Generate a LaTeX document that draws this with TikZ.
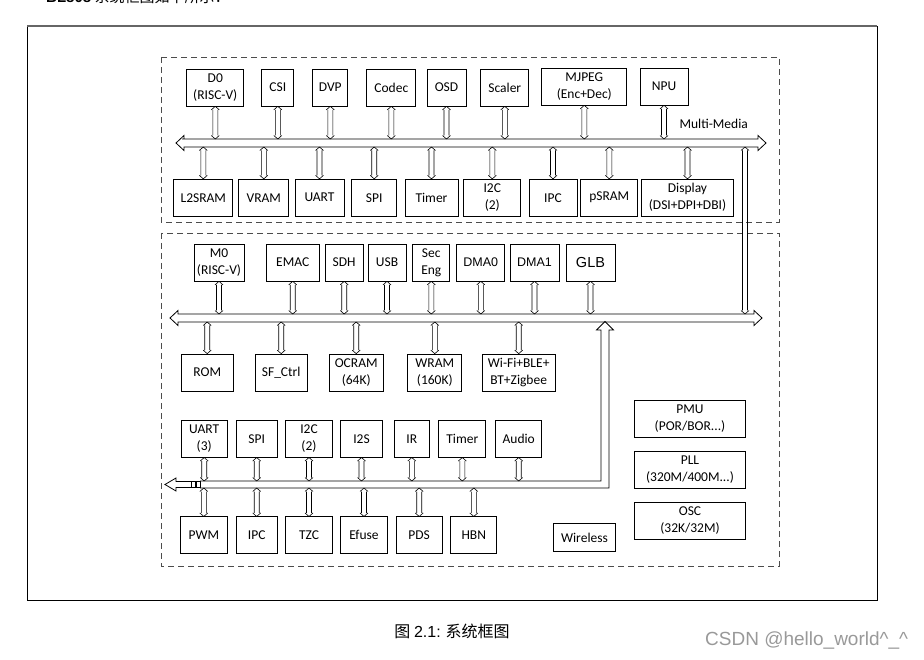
\documentclass[tikz,border=0pt]{standalone}
\usepackage{fontspec}
\setmainfont{Carlito}
\newfontfamily\arialfont{Liberation Sans}
\newfontfamily\cjkfont{Noto Sans CJK SC}
\usetikzlibrary{calc}

\tikzset{
  blk/.style={draw, line width=0.7pt, align=center, inner sep=0pt,
    minimum height=37pt, font=\fontsize{13.5}{17}\selectfont},
  link/.style={line width=0.6pt, to path={
    (\tikztostart) -- ($(\tikztostart)!3.5pt!(\tikztotarget)!4pt!90:(\tikztotarget)$)
    (\tikztostart) -- ($(\tikztostart)!3.5pt!(\tikztotarget)!4pt!-90:(\tikztotarget)$)
    ($(\tikztostart)!3.5pt!(\tikztotarget)!2.5pt!90:(\tikztotarget)$)
      -- ($(\tikztotarget)!3.5pt!(\tikztostart)!2.5pt!-90:(\tikztostart)$)
    ($(\tikztostart)!3.5pt!(\tikztotarget)!2.5pt!-90:(\tikztotarget)$)
      -- ($(\tikztotarget)!3.5pt!(\tikztostart)!2.5pt!90:(\tikztostart)$)
    (\tikztotarget) -- ($(\tikztotarget)!3.5pt!(\tikztostart)!4pt!90:(\tikztostart)$)
    (\tikztotarget) -- ($(\tikztotarget)!3.5pt!(\tikztostart)!4pt!-90:(\tikztostart)$)
  }},
  bus/.style={line width=0.8pt},
  area/.style={dash pattern=on 6pt off 4pt, line width=0.8pt, black!70},
}

\begin{document}
\begin{tikzpicture}[x=1pt,y=-1pt]
  \useasboundingbox (0,0) rectangle (924,660);

  % Rahmen
  \node[anchor=base west, inner sep=0pt, font=\fontsize{15}{18}\selectfont] (intro) at (46,2.5)
    {{\arialfont\bfseries BL808} {\cjkfont 系统框图如下所示：}};
  \draw[line width=0.8pt] (27,26) rectangle (877,600);
  \draw[line width=1.6pt, black!60] (27,26) -- (877,26);
  \draw[area] (161,57) rectangle (779,222);
  \draw[area] (161,233) rectangle (779,566);

  % Bus-Koordinaten
  \coordinate (mmtop) at (0,139);
  \coordinate (mmbot) at (0,147);
  \coordinate (systop) at (0,314);
  \coordinate (sysbot) at (0,322);
  \coordinate (pertop) at (0,481);
  \coordinate (perbot) at (0,488);
  \coordinate (mmdown) at (745,147);
  \coordinate (sysup) at (745,314);

  % Multi-Media
  \node[blk, minimum width=57pt] (d0) at (215.3,87.5) {D0\\(RISC-V)};
  \node[blk, minimum width=32pt] (csi) at (277.8,87.5) {CSI};
  \node[blk, minimum width=35pt] (dvp) at (330.3,87.5) {DVP};
  \node[blk, minimum width=49pt] (codec) at (391.3,87.5) {Codec};
  \node[blk, minimum width=39pt] (osd) at (446.5,87.5) {OSD};
  \node[blk, minimum width=48pt] (scaler) at (504.8,87.5) {Scaler};
  \node[blk, minimum width=85pt] (mjpeg) at (584.3,86.5) {MJPEG\\(Enc+Dec)};
  \node[blk, minimum width=48pt] (npu) at (664,86.5) {NPU};

  \node[blk, minimum width=59pt] (l2sram) at (203.3,197.7) {L2SRAM};
  \node[blk, minimum width=50pt] (vram) at (263.8,197.7) {VRAM};
  \node[blk, minimum width=49pt] (uart) at (319.5,197.7) {UART};
  \node[blk, minimum width=45pt] (spi) at (374.2,197.7) {SPI};
  \node[blk, minimum width=53pt] (timer) at (431.5,197.7) {Timer};
  \node[blk, minimum width=57pt] (itwoc) at (492.3,197.7) {I2C\\(2)};
  \node[blk, minimum width=48pt] (ipc) at (553,197.7) {IPC};
  \node[blk, minimum width=57pt] (psram) at (609.3,197.7) {pSRAM};
  \node[blk, minimum width=92pt] (display) at (687.5,197.7) {Display\\(DSI+DPI+DBI)};

  \node[anchor=west, font=\fontsize{13.5}{15}\selectfont] (mmlabel) at (676,124) {Multi-Media};
  \draw[bus] (182,139) -- (758,139) -- (758,135.5) -- (766,143) -- (758,150.5) -- (758,147)
    -- (184,147) -- (184,150.5) -- (176,143) -- (184,135.5) -- (184,139) -- cycle;

  \draw[link] (d0.south) to (d0.south |- mmtop);
  \draw[link] (csi.south) to (csi.south |- mmtop);
  \draw[link] (dvp.south) to (dvp.south |- mmtop);
  \draw[link] (codec.south) to (codec.south |- mmtop);
  \draw[link] (osd.south) to (osd.south |- mmtop);
  \draw[link] (scaler.south) to (scaler.south |- mmtop);
  \draw[link] (mjpeg.south) to (mjpeg.south |- mmtop);
  \draw[link] (npu.south) to (npu.south |- mmtop);

  \draw[link] (l2sram.north) to (l2sram.north |- mmbot);
  \draw[link] (vram.north) to (vram.north |- mmbot);
  \draw[link] (uart.north) to (uart.north |- mmbot);
  \draw[link] (spi.north) to (spi.north |- mmbot);
  \draw[link] (timer.north) to (timer.north |- mmbot);
  \draw[link] (itwoc.north) to (itwoc.north |- mmbot);
  \draw[link] (ipc.north) to (ipc.north |- mmbot);
  \draw[link] (psram.north) to (psram.north |- mmbot);
  \draw[link] (display.north) to (display.north |- mmbot);

  \draw[link] (mmdown) to (sysup);

  % System
  \node[blk, minimum width=50pt] (mzero) at (219,262.5) {M0\\(RISC-V)};
  \node[blk, minimum width=53pt] (emac) at (292.7,262.5) {EMAC};
  \node[blk, minimum width=38pt] (sdh) at (344.2,262.5) {SDH};
  \node[blk, minimum width=38pt] (usb) at (387,262.5) {USB};
  \node[blk, minimum width=37pt] (seceng) at (431.3,262.5) {Sec\\Eng};
  \node[blk, minimum width=48pt, font=\arialfont\fontsize{12.5}{15}\selectfont] (dmaa) at (480.8,262.5) {DMA0};
  \node[blk, minimum width=49pt, font=\arialfont\fontsize{12.5}{15}\selectfont] (dmab) at (534.5,262.5) {DMA1};
  \node[blk, minimum width=49pt, font=\arialfont\fontsize{14.5}{17}\selectfont] (glb) at (590.5,262.5) {GLB};

  \node[blk, minimum width=52pt] (rom) at (207.2,372.5) {ROM};
  \node[blk, minimum width=52pt] (sfctrl) at (281.2,372.5) {SF\_Ctrl};
  \node[blk, minimum width=54pt] (ocram) at (356.2,372.5) {OCRAM\\(64K)};
  \node[blk, minimum width=54pt] (wram) at (434.8,372.5) {WRAM\\(160K)};
  \node[blk, minimum width=73pt] (wifi) at (518.7,372.5) {Wi-Fi+BLE+\\BT+Zigbee};

  \draw[bus] (178,314) -- (754,314) -- (754,310.5) -- (762,318) -- (754,325.5) -- (754,322)
    -- (178,322) -- (178,325.5) -- (170,318) -- (178,310.5) -- cycle;

  \draw[link] (mzero.south) to (mzero.south |- systop);
  \draw[link] (emac.south) to (emac.south |- systop);
  \draw[link] (sdh.south) to (sdh.south |- systop);
  \draw[link] (usb.south) to (usb.south |- systop);
  \draw[link] (seceng.south) to (seceng.south |- systop);
  \draw[link] (dmaa.south) to (dmaa.south |- systop);
  \draw[link] (dmab.south) to (dmab.south |- systop);
  \draw[link] (glb.south) to (glb.south |- systop);

  \draw[link] (rom.north) to (rom.north |- sysbot);
  \draw[link] (sfctrl.north) to (sfctrl.north |- sysbot);
  \draw[link] (ocram.north) to (ocram.north |- sysbot);
  \draw[link] (wram.north) to (wram.north |- sysbot);
  \draw[link] (wifi.north) to (wifi.north |- sysbot);

  % Peripherie
  \node[blk, minimum width=46pt] (puart) at (204.2,438.7) {UART\\(3)};
  \node[blk, minimum width=41pt] (pspi) at (256.7,438.7) {SPI};
  \node[blk, minimum width=47pt] (pitwoc) at (309,438.7) {I2C\\(2)};
  \node[blk, minimum width=42pt] (itwos) at (361.5,438.7) {I2S};
  \node[blk, minimum width=35pt] (ir) at (411.8,438.7) {IR};
  \node[blk, minimum width=47pt] (ptimer) at (462.3,438.7) {Timer};
  \node[blk, minimum width=46pt] (audio) at (518.7,438.7) {Audio};

  \node[blk, minimum width=47pt] (pwm) at (203.8,535.3) {PWM};
  \node[blk, minimum width=41pt] (pipc) at (256.7,535.3) {IPC};
  \node[blk, minimum width=47pt] (tzc) at (309,535.3) {TZC};
  \node[blk, minimum width=47pt] (efuse) at (364,535.3) {Efuse};
  \node[blk, minimum width=46pt] (pds) at (419.2,535.3) {PDS};
  \node[blk, minimum width=46pt] (hbn) at (473.8,535.3) {HBN};

  \begin{scope}[line width=0.8pt]
    \draw (200,481) -- (601,481) -- (601,330) -- (596.5,330) -- (605,321.5)
      -- (613.5,330) -- (609,330) -- (609,488) -- (200,488);
    \draw (191,481.5) -- (176,481.5) -- (176,478) -- (165,484.5) -- (176,491)
      -- (176,487.5) -- (191,487.5);
    \draw (191,481.5) rectangle (195,487.5);
    \draw (196,481.5) rectangle (200,487.5);
  \end{scope}

  \draw[link] (puart.south) to (puart.south |- pertop);
  \draw[link] (pspi.south) to (pspi.south |- pertop);
  \draw[link] (pitwoc.south) to (pitwoc.south |- pertop);
  \draw[link] (itwos.south) to (itwos.south |- pertop);
  \draw[link] (ir.south) to (ir.south |- pertop);
  \draw[link] (ptimer.south) to (ptimer.south |- pertop);
  \draw[link] (audio.south) to (audio.south |- pertop);

  \draw[link] (pwm.north) to (pwm.north |- perbot);
  \draw[link] (pipc.north) to (pipc.north |- perbot);
  \draw[link] (tzc.north) to (tzc.north |- perbot);
  \draw[link] (efuse.north) to (efuse.north |- perbot);
  \draw[link] (pds.north) to (pds.north |- perbot);
  \draw[link] (hbn.north) to (hbn.north |- perbot);

  \node[blk, minimum width=62pt, minimum height=28pt] (wireless) at (584.5,537.5) {Wireless};
  \node[blk, minimum width=111pt] (pmu) at (690,418.7) {PMU\\(POR/BOR...)};
  \node[blk, minimum width=111pt] (pll) at (690,469.8) {PLL\\(320M/400M...)};
  \node[blk, minimum width=111pt] (osc) at (690,520.7) {OSC\\(32K/32M)};

  % Unterschrift
  \node[font=\cjkfont\fontsize{16}{19}\selectfont] (caption) at (452,631)
    {图 {\arialfont 2.1:} 系统框图};
  \node[anchor=west, inner sep=0pt, text=black!40, font=\arialfont\fontsize{19}{22}\selectfont] (mark)
    at (705,641) {CSDN @hello\_world\textasciicircum\_\textasciicircum};
\end{tikzpicture}
\end{document}
